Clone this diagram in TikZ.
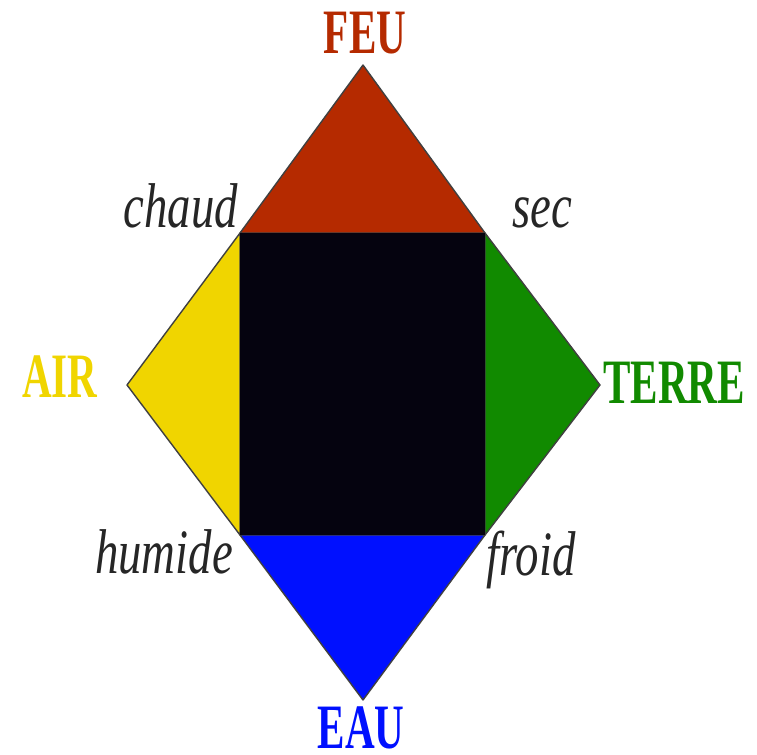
\documentclass[tikz,border=0pt]{standalone}
\usepackage{fontspec}
\setmainfont{Liberation Serif}
\usetikzlibrary{positioning}
\definecolor{feured}{RGB}{181,42,0}
\definecolor{airyellow}{RGB}{240,213,0}
\definecolor{terregreen}{RGB}{17,138,0}
\definecolor{eaublue}{RGB}{0,16,255}
\definecolor{corenoir}{RGB}{5,3,15}
\tikzset{
  element/.style={inner sep=0pt, anchor=base, font=\fontsize{36}{40}\selectfont\bfseries},
  quality/.style={inner sep=0pt, anchor=base, text=black!85, font=\fontsize{36}{40}\selectfont\itshape},
  facet/.style={draw=black!75, line width=0.8pt, line join=round}
}
\newcommand{\narrow}[1]{\scalebox{0.65}[1]{#1}}
\newcommand{\slim}[1]{\scalebox{0.74}[1]{#1}}
\begin{document}
\begin{tikzpicture}[x=0.02cm, y=-0.02cm]
  \useasboundingbox (0,0) rectangle (757,754);
  % corners of the diamond and of the inner square
  \coordinate (top) at (363,65);
  \coordinate (left) at (127,385);
  \coordinate (right) at (600,385);
  \coordinate (bottom) at (363,700);
  \coordinate (c1) at (240,233);
  \coordinate (c2) at (485,233);
  \coordinate (c3) at (485,535);
  \coordinate (c4) at (240,535);
  % the four triangles and the core
  \filldraw[facet, fill=feured] (c1) -- (top) -- (c2) -- cycle;
  \filldraw[facet, fill=airyellow] (c1) -- (left) -- (c4) -- cycle;
  \filldraw[facet, fill=terregreen] (c2) -- (right) -- (c3) -- cycle;
  \filldraw[facet, fill=eaublue] (c4) -- (bottom) -- (c3) -- cycle;
  \fill[corenoir] (c1) rectangle (c3);
  % elements
  \node[element, text=feured] (feu) at (365,53) {\narrow{FEU}};
  \node[element, text=airyellow] (air) at (60,397) {\narrow{AIR}};
  \node[element, text=terregreen] (terre) at (674,403) {\narrow{TERRE}};
  \node[element, text=eaublue] (eau) at (361,748) {\narrow{EAU}};
  % qualities
  \node[quality] (chaud) at (181,227) {\slim{chaud}};
  \node[quality] (sec) at (542,227) {\slim{sec}};
  \node[quality] (humide) at (164,573) {\slim{humide}};
  \node[quality] (froid) at (531,575) {\slim{froid}};
\end{tikzpicture}
\end{document}
